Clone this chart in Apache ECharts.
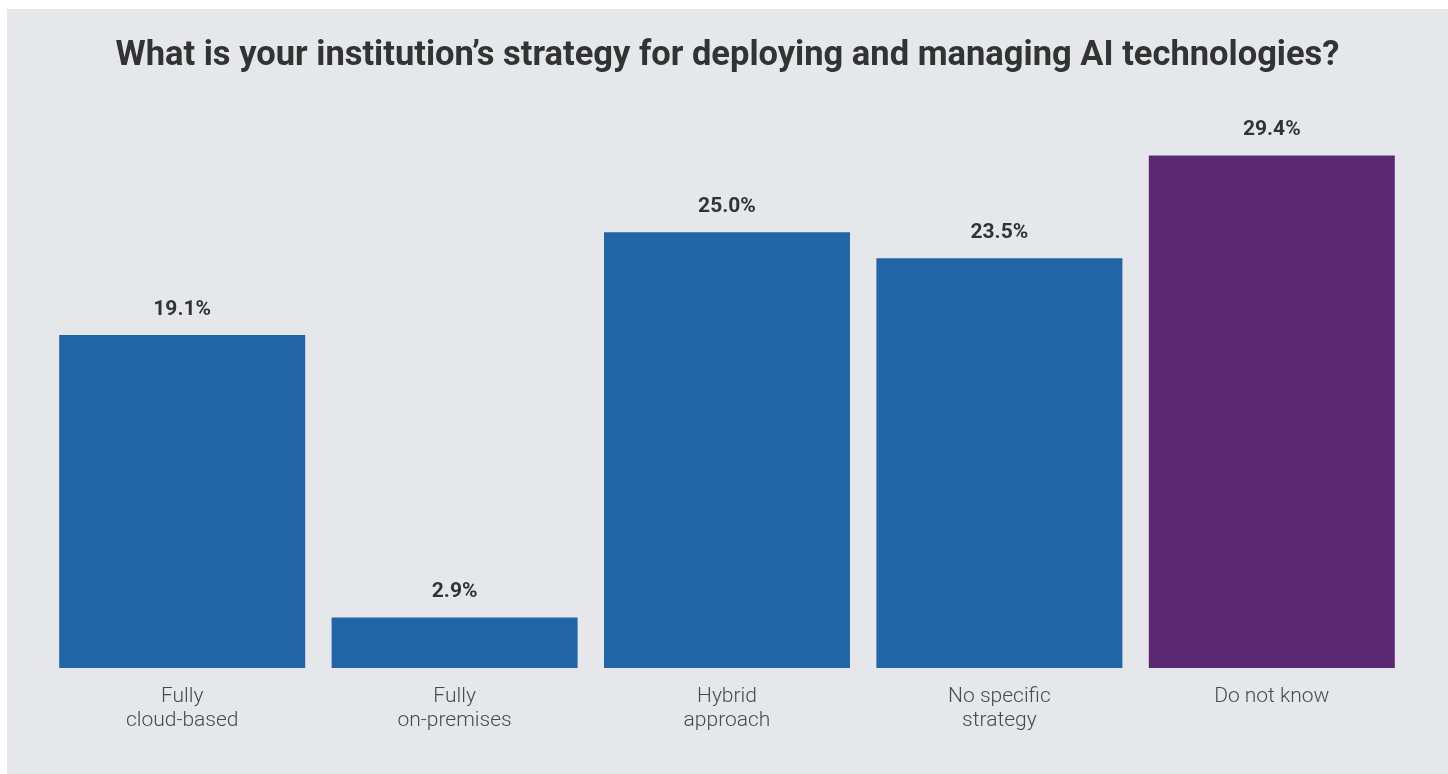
<!DOCTYPE html>
<html>
<head>
<meta charset="utf-8">
<script src="https://cdn.jsdelivr.net/npm/echarts@6/dist/echarts.min.js"></script>
<style>
  html, body { margin: 0; padding: 0; background: #ffffff; }
  #panel { position: absolute; left: 7px; top: 9px; width: 1441px; height: 765px; background: #e6e7eb; }
  #chart { width: 1441px; height: 765px; }
</style>
</head>
<body>
<div id="panel"><div id="chart"></div></div>
<script>
const categories = ['Fully\ncloud-based', 'Fully\non-premises', 'Hybrid\napproach', 'No specific\nstrategy', 'Do not know'];
const shares = [19.1, 2.9, 25.0, 23.5, 29.4];
const barColors = ['#2165a7', '#2165a7', '#2165a7', '#2165a7', '#5c2871'];
const titleText = 'What is your institution\u2019s strategy for deploying and managing AI technologies?';

const chart = echarts.init(document.getElementById('chart'), null, { renderer: 'canvas' });
chart.setOption({
  backgroundColor: '#e6e7eb',
  textStyle: { fontFamily: 'Roboto' },
  title: {
    text: titleText,
    left: 'center',
    top: 25,
    textStyle: { fontFamily: 'Roboto', fontSize: 34.5, fontWeight: 'bold', color: '#333333' }
  },
  grid: { left: 39, right: 40, top: 136, bottom: 106 },
  xAxis: {
    type: 'category',
    data: categories,
    axisLine: { show: false },
    axisTick: { show: false },
    axisLabel: { color: '#4a4a4a', fontSize: 21, fontWeight: 300, lineHeight: 24, margin: 17, fontFamily: 'Roboto' }
  },
  yAxis: {
    type: 'value',
    min: 0,
    max: 30,
    show: false,
    splitLine: { show: false }
  },
  series: [{
    type: 'bar',
    barWidth: 246,
    data: shares.map((v, i) => ({ value: v, itemStyle: { color: barColors[i] } })),
    label: {
      show: true,
      position: 'top',
      distance: 15,
      formatter: p => p.value.toFixed(1) + '%',
      fontFamily: 'Roboto',
      fontSize: 21,
      fontWeight: 'bold',
      color: '#333333'
    }
  }]
});
</script>
</body>
</html>
